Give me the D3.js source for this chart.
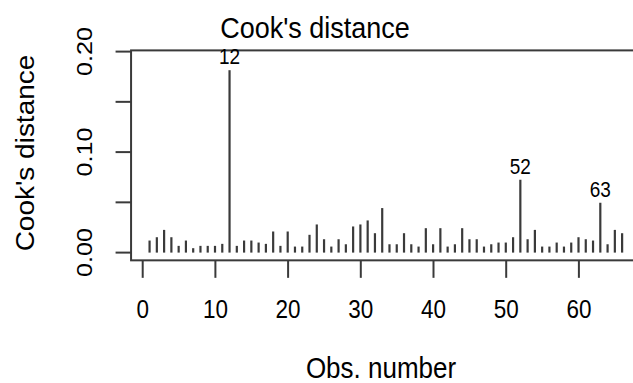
<!DOCTYPE html>
<html>
<head>
    <script src="https://d3js.org/d3.v7.min.js"></script>
    <style>
        body { margin: 0; background: white; }
        text { font-family: "Liberation Sans", Arial, sans-serif; fill: #000; }
    </style>
</head>
<body>
<svg id="cook"></svg>
<script>
// Cook's distance per observation (obs 1..66)
const obs = d3.range(1, 67);
const cooks = [0.012, 0.0153, 0.0226, 0.0153, 0.0067, 0.012, 0.0044, 0.0067, 0.0067, 0.0067,
               0.0087, 0.1815, 0.0067, 0.012, 0.012, 0.010, 0.0087, 0.021, 0.0067, 0.021,
               0.006, 0.006, 0.0177, 0.028, 0.0133, 0.006, 0.0133, 0.0083, 0.026, 0.028,
               0.032, 0.0193, 0.0443, 0.0083, 0.0083, 0.0193, 0.0083, 0.006, 0.0243, 0.0083,
               0.0243, 0.006, 0.0083, 0.0243, 0.0133, 0.0133, 0.006, 0.0083, 0.010, 0.010,
               0.0153, 0.0725, 0.0133, 0.0226, 0.006, 0.006, 0.010, 0.006, 0.010, 0.0153,
               0.0133, 0.012, 0.0496, 0.0083, 0.0226, 0.0193];
const labelled = [12, 52, 63];
const xTicks = [0, 10, 20, 30, 40, 50, 60];
const yTicks = [0, 0.05, 0.10, 0.15, 0.20];
const yTickLabels = ['0.00', '', '0.10', '', '0.20'];

const svg = d3.select('#cook')
              .attr('width', 633)
              .attr('height', 383);

const stretch = 1.12; // text looks a bit taller than wide in the picture

let x = d3.scaleLinear()
          .domain([0, 60])
          .range([142.7, 578.9]);
let y = d3.scaleLinear()
          .domain([0, 0.2])
          .range([252.6, 51.6]);

const col = '#3a3a3a';

// plot box (right side runs off the picture)
svg.append('rect')
   .attr('x', x(-1.6))
   .attr('y', y(0.2012))
   .attr('width', x(68.6) - x(-1.6))
   .attr('height', y(-0.0077) - y(0.2012))
   .attr('fill', 'none')
   .attr('stroke', col)
   .attr('stroke-width', 2);

// vertical lines (type = "h")
svg.append('g')
   .selectAll('line')
   .data(obs)
   .join('line')
   .attr('x1', d => x(d) - 0.4)
   .attr('x2', d => x(d) - 0.4)
   .attr('y1', y(0))
   .attr('y2', (d, i) => y(cooks[i]))
   .attr('stroke', col)
   .attr('stroke-width', 2.2);

// id labels
svg.append('g')
   .selectAll('text')
   .data(labelled)
   .join('text')
   .attr('transform', d => `translate(${x(d) - 0.4},${y(cooks[d - 1]) - 6}) scale(1,${stretch})`)
   .attr('text-anchor', 'middle')
   .attr('font-size', 19)
   .text(d => d);

// x axis ticks
const yBox = y(-0.0077);
let xa = svg.append('g');
xa.selectAll('line')
  .data(xTicks)
  .join('line')
  .attr('x1', d => x(d)).attr('x2', d => x(d))
  .attr('y1', yBox).attr('y2', yBox + 17.5)
  .attr('stroke', col).attr('stroke-width', 2);
xa.selectAll('text')
  .data(xTicks)
  .join('text')
  .attr('transform', d => `translate(${x(d)},317.5) scale(1,${stretch})`)
  .attr('text-anchor', 'middle')
  .attr('font-size', 22.5)
  .text(d => d);

// y axis ticks
const xBox = x(-1.6);
let ya = svg.append('g');
ya.selectAll('line')
  .data(yTicks)
  .join('line')
  .attr('x1', xBox - 15.5).attr('x2', xBox)
  .attr('y1', d => y(d)).attr('y2', d => y(d))
  .attr('stroke', col).attr('stroke-width', 2);
ya.selectAll('text')
  .data(yTicks)
  .join('text')
  .attr('transform', d => `translate(92,${y(d)}) scale(1,${stretch}) rotate(-90)`)
  .attr('text-anchor', 'middle')
  .attr('font-size', 22.5)
  .text((d, i) => yTickLabels[i]);

// titles
svg.append('text')
   .attr('transform', `translate(315,38) scale(1,${stretch})`)
   .attr('text-anchor', 'middle')
   .attr('font-size', 27)
   .text("Cook's distance");

svg.append('text')
   .attr('transform', `translate(381,378) scale(1,${stretch})`)
   .attr('text-anchor', 'middle')
   .attr('font-size', 26)
   .text('Obs. number');

svg.append('text')
   .attr('transform', `translate(33.5,153) scale(1,${stretch}) rotate(-90)`)
   .attr('text-anchor', 'middle')
   .attr('font-size', 25)
   .text("Cook's distance");
</script>
</body>
</html>
